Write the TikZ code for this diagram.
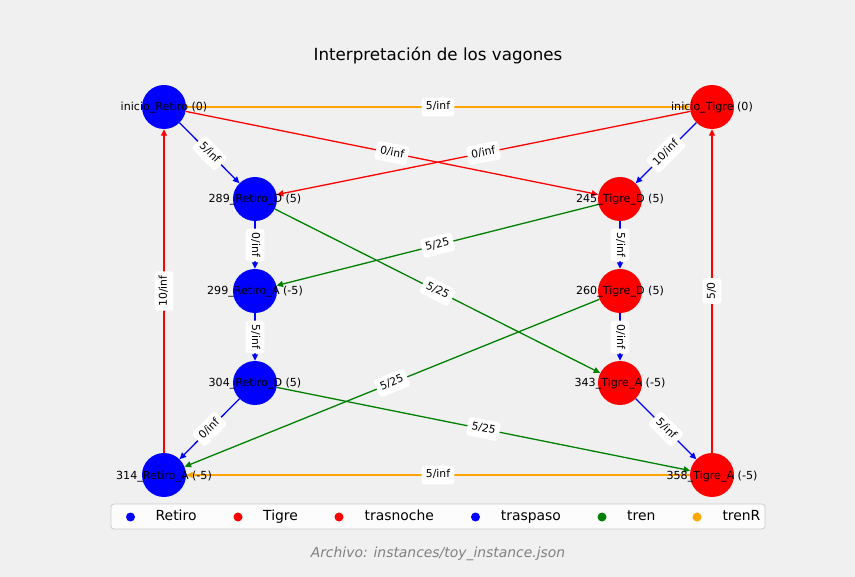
\documentclass[tikz,border=0pt]{standalone}
\usepackage{fontspec}
\setmainfont{DejaVu Sans}
\usetikzlibrary{arrows.meta}
\definecolor{bgc}{HTML}{F0F0F0}
\definecolor{cred}{HTML}{FF0000}
\definecolor{cblue}{HTML}{0000FF}
\definecolor{cgreen}{HTML}{008000}
\definecolor{corange}{HTML}{FFA500}
\definecolor{cgrey}{HTML}{808080}
\definecolor{lframe}{HTML}{CCCCCC}
\begin{document}
\begin{tikzpicture}[x=1pt,y=-1pt,
  vnode/.style={circle, minimum size=44pt, inner sep=0pt, draw=none},
  retiro/.style={vnode, fill=cblue},
  tigre/.style={vnode, fill=cred},
  vlabel/.style={font=\fontsize{11.1}{13}\selectfont, text=black, inner sep=0pt, anchor=base, yshift=-4pt},
  conn/.style={line width=1.3pt, -{Triangle[length=6.5pt,width=6pt]}},
  trasnoche/.style={conn, draw=cred},
  traspaso/.style={conn, draw=cblue},
  tren/.style={conn, draw=cgreen},
  trenR/.style={conn, draw=corange},
  elab/.style={font=\fontsize{10.8}{12}\selectfont, fill=white, rounded corners=3pt,
    text height=8.3pt, text depth=2.5pt,
    inner xsep=4.2pt, inner ysep=4pt, sloped, midway},
  legtext/.style={font=\fontsize{13.9}{16}\selectfont, anchor=base west, inner sep=0pt},
  legdot/.style={circle, inner sep=0pt, minimum size=9pt}
]
\useasboundingbox (0,0) rectangle (855,577);
\fill[bgc] (0,0) rectangle (855,577);

% title and footer
\node[font=\fontsize{16.7}{19}\selectfont, anchor=base, inner sep=0pt] (title) at (438,61) {Interpretación de los vagones};
\node[font=\fontsize{13.9}{16}\selectfont\itshape, text=cgrey, anchor=base, inner sep=0pt] (footer) at (438,558) {Archivo: instances/toy\_instance.json};

% nodes
\node[retiro] (ir) at (164,107) {};
\node[tigre]  (it) at (712,107) {};
\node[retiro] (r289) at (255,199) {};
\node[tigre]  (t245) at (620,199) {};
\node[retiro] (r299) at (255,291) {};
\node[tigre]  (t260) at (620,291) {};
\node[retiro] (r304) at (255,383) {};
\node[tigre]  (t343) at (620,383) {};
\node[retiro] (r314) at (164,475) {};
\node[tigre]  (t358) at (712,475) {};

% edges
\foreach \s/\t/\c in {r314/ir/trasnoche, t358/it/trasnoche, ir/it/trenR,
    ir/r289/traspaso, ir/t245/trasnoche, it/r289/trasnoche, it/t245/traspaso,
    r289/r299/traspaso, t245/t260/traspaso, t245/r299/tren, r289/t343/tren,
    r299/r304/traspaso, t260/t343/traspaso, t260/r314/tren, r304/t358/tren,
    r304/r314/traspaso, t343/t358/traspaso, t358/r314/trenR}
  \draw[\c] (\s) -- (\t);

% edge labels
\foreach \s/\t/\l in {r314/ir/{10/inf}, t358/it/{5/0}, ir/it/{5/inf},
    ir/r289/{5/inf}, ir/t245/{0/inf}, it/r289/{0/inf}, it/t245/{10/inf},
    r289/r299/{0/inf}, t245/t260/{5/inf}, t245/r299/{5/25}, r289/t343/{5/25},
    r299/r304/{5/inf}, t260/t343/{0/inf}, t260/r314/{5/25}, r304/t358/{5/25},
    r304/r314/{0/inf}, t343/t358/{5/inf}, t358/r314/{5/inf}}
  \path (\s) -- node[elab] {\l} (\t);

% node labels
\node[vlabel] (lir) at (ir.center) {inicio\_Retiro (0)};
\node[vlabel] (lit) at (it.center) {inicio\_Tigre (0)};
\node[vlabel] (l289) at (r289.center) {289\_Retiro\_D (5)};
\node[vlabel] (l245) at (t245.center) {245\_Tigre\_D (5)};
\node[vlabel] (l299) at (r299.center) {299\_Retiro\_A (-5)};
\node[vlabel] (l260) at (t260.center) {260\_Tigre\_D (5)};
\node[vlabel] (l304) at (r304.center) {304\_Retiro\_D (5)};
\node[vlabel] (l343) at (t343.center) {343\_Tigre\_A (-5)};
\node[vlabel] (l314) at (r314.center) {314\_Retiro\_A (-5)};
\node[vlabel] (l358) at (t358.center) {358\_Tigre\_A (-5)};

% legend
\node[draw=lframe, fill=white, fill opacity=0.8, draw opacity=1, rounded corners=3pt,
  line width=0.8pt, minimum width=654pt, minimum height=25pt, inner sep=0pt] (legend) at (438,516.5) {};
\node[legdot, fill=cblue]   (d1) at (130.5,517) {};
\node[legtext] (t1) at (155.5,521) {Retiro};
\node[legdot, fill=cred]    (d2) at (238,517) {};
\node[legtext] (t2) at (263,521) {Tigre};
\node[legdot, fill=cred]    (d3) at (339,517) {};
\node[legtext] (t3) at (364.5,521) {trasnoche};
\node[legdot, fill=cblue]   (d4) at (475.5,517) {};
\node[legtext] (t4) at (500.7,521) {traspaso};
\node[legdot, fill=cgreen]  (d5) at (602,517) {};
\node[legtext] (t5) at (627,521) {tren};
\node[legdot, fill=corange] (d6) at (697,517) {};
\node[legtext] (t6) at (722.3,521) {trenR};
\end{tikzpicture}
\end{document}
